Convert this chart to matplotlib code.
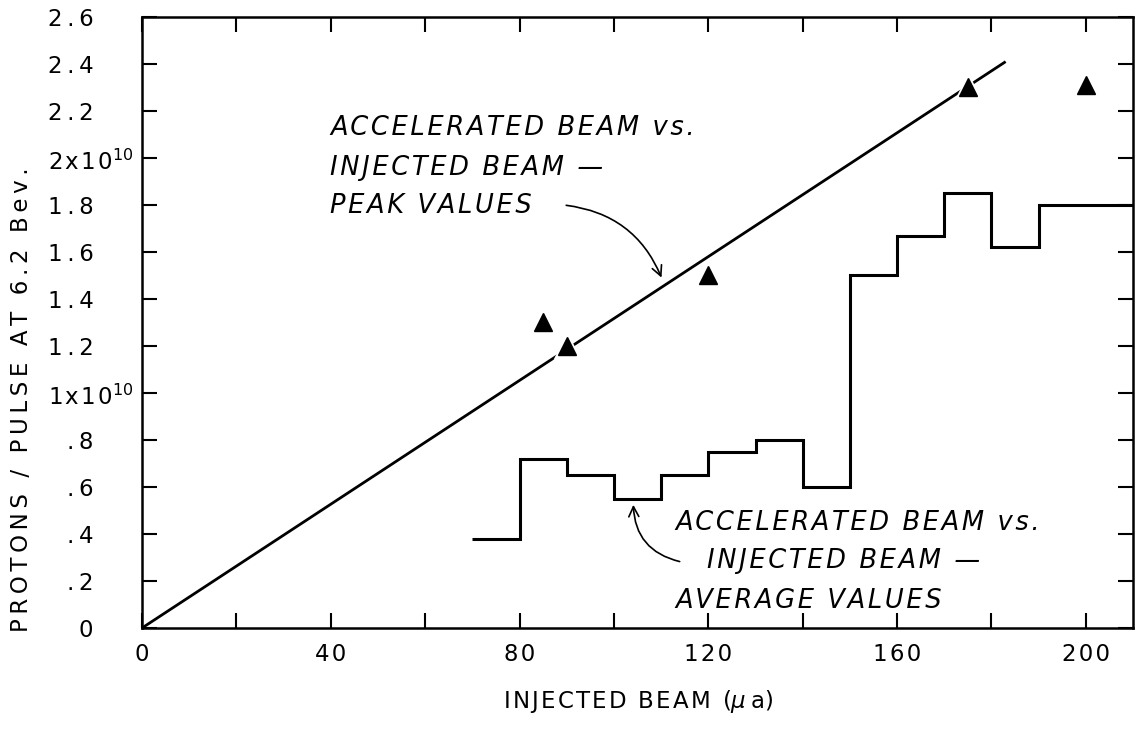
import matplotlib.pyplot as plt
import numpy as np

plt.rcParams['font.family'] = ['DejaVu Sans']

# peak values (triangles) and fitted straight line
peak_x = [85, 90, 120, 175, 200]
peak_y = [1.30, 1.20, 1.50, 2.30, 2.31]
line_x = [0, 183]
line_y = [0, 2.41]

# average values, drawn as steps
avg_edges = [70, 80, 90, 100, 110, 120, 130, 140, 150, 160, 170, 180, 190, 210]
avg_vals = [0.38, 0.72, 0.65, 0.55, 0.65, 0.75, 0.80, 0.60, 1.50, 1.67, 1.85, 1.62, 1.80]

y_ticks = [0, 0.2, 0.4, 0.6, 0.8, 1.0, 1.2, 1.4, 1.6, 1.8, 2.0, 2.2, 2.4, 2.6]
y_labels = ['0', '.2', '.4', '.6', '.8', '', '1.2', '1.4', '1.6', '1.8',
            '', '2.2', '2.4', '2.6']
exp_ticks = [1.0, 2.0]
exp_labels = ['1x10', '2x10']
x_major = [0, 40, 80, 120, 160, 200]
x_labels = ['0', '40', '80', '120', '160', '200']
x_minor = [20, 60, 100, 140, 180]

THIN = '\u2009'
HAIR = '\u200a'


def spaced(s, gap=THIN):
    # imitate the wide letter spacing of the lettering
    return gap.join(s)


fig = plt.figure(figsize=(11.4, 7.32), dpi=100)
ax = fig.add_axes([0.1246, 0.1421, 0.8693, 0.8347])

ax.plot(line_x, line_y, color='black', lw=2, solid_capstyle='butt', zorder=2)
ax.plot(peak_x, peak_y, ls='none', marker='^', ms=19, color='white', zorder=3)
ax.plot(peak_x, peak_y, ls='none', marker='^', ms=12.5, color='black', zorder=4)
ax.stairs(avg_vals, avg_edges, baseline=None, color='black', lw=2.2, zorder=2)

ax.set_xlim(0, 210)
ax.set_ylim(0, 2.6)
ax.set_xticks(x_major)
ax.set_xticklabels([spaced(l, HAIR) for l in x_labels])
ax.set_xticks(x_minor, minor=True)
ax.set_yticks(y_ticks)
ax.set_yticklabels([spaced(l) for l in y_labels])
ax.tick_params(which='both', direction='in', length=11, width=1.5,
               top=True, right=True, labelsize=16.5)
ax.tick_params(axis='x', pad=11)
ax.tick_params(axis='y', pad=35)
for s in ax.spines.values():
    s.set_linewidth(1.8)

# the x10^10 labels stick out to the right of the other tick labels
for t, l in zip(exp_ticks, exp_labels):
    ax.text(-0.0945, t - 0.05, spaced(l, HAIR) + r'$^{10}$', fontsize=16.5,
            ha='left', va='baseline', transform=ax.get_yaxis_transform())

ax.set_xlabel(spaced('INJECTED BEAM (', HAIR) + r'$\mu$' + THIN + 'a)',
              fontsize=16.5)
ax.xaxis.set_label_coords(0.5, -0.098)
ax.set_ylabel(spaced('PROTONS / PULSE AT 6.2 Bev.'), fontsize=16.5)
ax.yaxis.set_label_coords(-0.110, 0.373)

txt = dict(fontsize=18.5, style='italic', ha='left', va='baseline')
ax.text(39.9, 2.098, spaced('ACCELERATED BEAM vs.', HAIR), **txt)
ax.text(39.9, 1.928, spaced('INJECTED BEAM —', HAIR), **txt)
ax.text(39.9, 1.766, spaced('PEAK VALUES', HAIR), **txt)
ax.text(113.0, 0.417, spaced('ACCELERATED BEAM vs.', HAIR), **txt)
ax.text(119.8, 0.255, spaced('INJECTED BEAM —', HAIR), **txt)
ax.text(113.0, 0.085, spaced('AVERAGE VALUES', HAIR), **txt)

ax.annotate('', xy=(110.3, 1.48), xytext=(89.3, 1.80),
            arrowprops=dict(arrowstyle='->', lw=1.2, color='black',
                            connectionstyle='arc3,rad=-0.3', mutation_scale=18))
ax.annotate('', xy=(104.1, 0.536), xytext=(114.5, 0.28),
            arrowprops=dict(arrowstyle='->', lw=1.2, color='black',
                            connectionstyle='arc3,rad=-0.4', mutation_scale=18))

fig.savefig('out.png', dpi=100)
